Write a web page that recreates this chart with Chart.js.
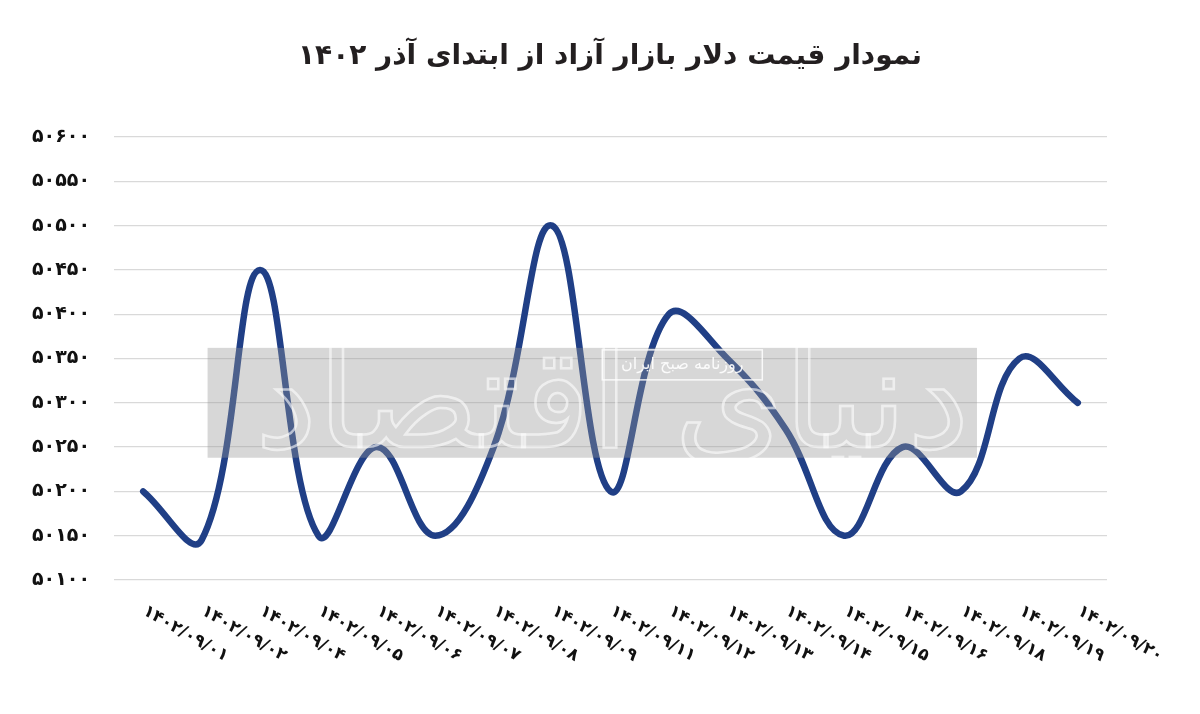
<!DOCTYPE html>
<html>
<head>
<meta charset="utf-8">
<script src="https://cdn.jsdelivr.net/npm/chart.js@4.4.1/dist/chart.umd.min.js"></script>
<style>
  html, body { margin: 0; padding: 0; background: #fff; }
  #wrap { width: 1200px; height: 714px; position: relative; }
</style>
</head>
<body>
<div id="wrap"><canvas id="lineChart"></canvas></div>
<script>
// داده‌ها
const chartTitle = "نمودار قیمت دلار بازار آزاد از ابتدای آذر ۱۴۰۲";
const dates = [
  "۱۴۰۲/۰۹/۰۱", "۱۴۰۲/۰۹/۰۲", "۱۴۰۲/۰۹/۰۴", "۱۴۰۲/۰۹/۰۵", "۱۴۰۲/۰۹/۰۶",
  "۱۴۰۲/۰۹/۰۷", "۱۴۰۲/۰۹/۰۸", "۱۴۰۲/۰۹/۰۹", "۱۴۰۲/۰۹/۱۱", "۱۴۰۲/۰۹/۱۲",
  "۱۴۰۲/۰۹/۱۳", "۱۴۰۲/۰۹/۱۴", "۱۴۰۲/۰۹/۱۵", "۱۴۰۲/۰۹/۱۶", "۱۴۰۲/۰۹/۱۸",
  "۱۴۰۲/۰۹/۱۹", "۱۴۰۲/۰۹/۲۰"
];
const dollarPrice = [
  50200, 50145, 50450, 50150, 50250,
  50150, 50250, 50500, 50200, 50400,
  50350, 50270, 50150, 50250, 50200,
  50350, 50300
];
const yMin = 50100;
const yMax = 50600;
const yStep = 50;

const faDigits = "۰۱۲۳۴۵۶۷۸۹";
function toFa(n) {
  return String(n).replace(/[0-9]/g, (d) => faDigits[d]);
}

const FONT = "'DejaVu Sans', sans-serif";

// عنوان وسط صفحه
const centerTitle = {
  id: "centerTitle",
  afterDraw(chart) {
    const ctx = chart.ctx;
    ctx.save();
    ctx.font = "bold 28px " + FONT;
    ctx.fillStyle = "#231f20";
    ctx.textAlign = "center";
    ctx.textBaseline = "middle";
    ctx.fillText(chartTitle, chart.width / 2 + 10, 57);
    ctx.restore();
  }
};

// برچسب‌های مورب محور افقی
const slantLabels = {
  id: "slantLabels",
  afterDraw(chart) {
    const ctx = chart.ctx;
    const x = chart.scales.x;
    ctx.save();
    ctx.font = "bold 17px " + FONT;
    ctx.fillStyle = "#111";
    ctx.textAlign = "left";
    ctx.textBaseline = "middle";
    dates.forEach((label, i) => {
      const px = x.getPixelForTick(i);
      ctx.save();
      ctx.translate(px + 1, chart.chartArea.bottom + 30);
      ctx.rotate(Math.PI / 6);
      ctx.fillText(label, 0, 0);
      ctx.restore();
    });
    ctx.restore();
  }
};

// واترمارک
const watermark = {
  id: "watermark",
  afterDatasetsDraw(chart) {
    const ctx = chart.ctx;
    const x = chart.scales.x;
    const y = chart.scales.y;
    const left = x.getPixelForTick(1) + 6;
    const right = x.getPixelForTick(14) + 16;
    const top = y.getPixelForValue(50362);
    const bottom = y.getPixelForValue(50238);
    ctx.save();
    ctx.fillStyle = "rgba(150,150,150,0.38)";
    ctx.fillRect(left, top, right - left, bottom - top);
    ctx.strokeStyle = "rgba(255,255,255,0.6)";
    ctx.lineWidth = 2.5;
    ctx.font = "140px " + FONT;
    ctx.textAlign = "center";
    ctx.textBaseline = "middle";
    ctx.strokeText("دنیای اقتصاد", (left + right) / 2 + 20, (top + bottom) / 2 + 8);
    // برچسب کوچک
    const cx = (left + right) / 2 + 90;
    ctx.strokeStyle = "rgba(255,255,255,0.85)";
    ctx.lineWidth = 1.5;
    ctx.strokeRect(cx - 80, top + 2, 160, 30);
    ctx.fillStyle = "rgba(255,255,255,0.9)";
    ctx.font = "16px " + FONT;
    ctx.fillText("روزنامه صبح ایران", cx, top + 17);
    ctx.restore();
  }
};

const ctx = document.getElementById("lineChart").getContext("2d");
new Chart(ctx, {
  type: "line",
  data: {
    labels: dates,
    datasets: [
      {
        label: "قیمت دلار",
        data: dollarPrice,
        borderColor: "#203f86",
        borderWidth: 6.5,
        borderCapStyle: "round",
        pointRadius: 0,
        tension: 0.4,
        fill: false,
      },
    ],
  },
  options: {
    responsive: true,
    maintainAspectRatio: false,
    animation: false,
    layout: { padding: { left: 8, right: 93, top: 137, bottom: 126 } },
    plugins: {
      legend: { display: false },
      tooltip: { enabled: false },
      title: { display: false },
    },
    scales: {
      x: {
        offset: true,
        grid: { display: false },
        border: { display: false },
        ticks: { display: false },
      },
      y: {
        min: yMin,
        max: yMax,
        grid: { color: "#d9d9d9", lineWidth: 1.2, drawTicks: false },
        border: { display: false },
        ticks: {
          stepSize: yStep,
          padding: 24,
          color: "#111",
          font: { family: FONT, size: 19, weight: "bold" },
          callback: (v) => toFa(v),
        },
      },
    },
  },
  plugins: [slantLabels, watermark, centerTitle],
});
</script>
</body>
</html>
